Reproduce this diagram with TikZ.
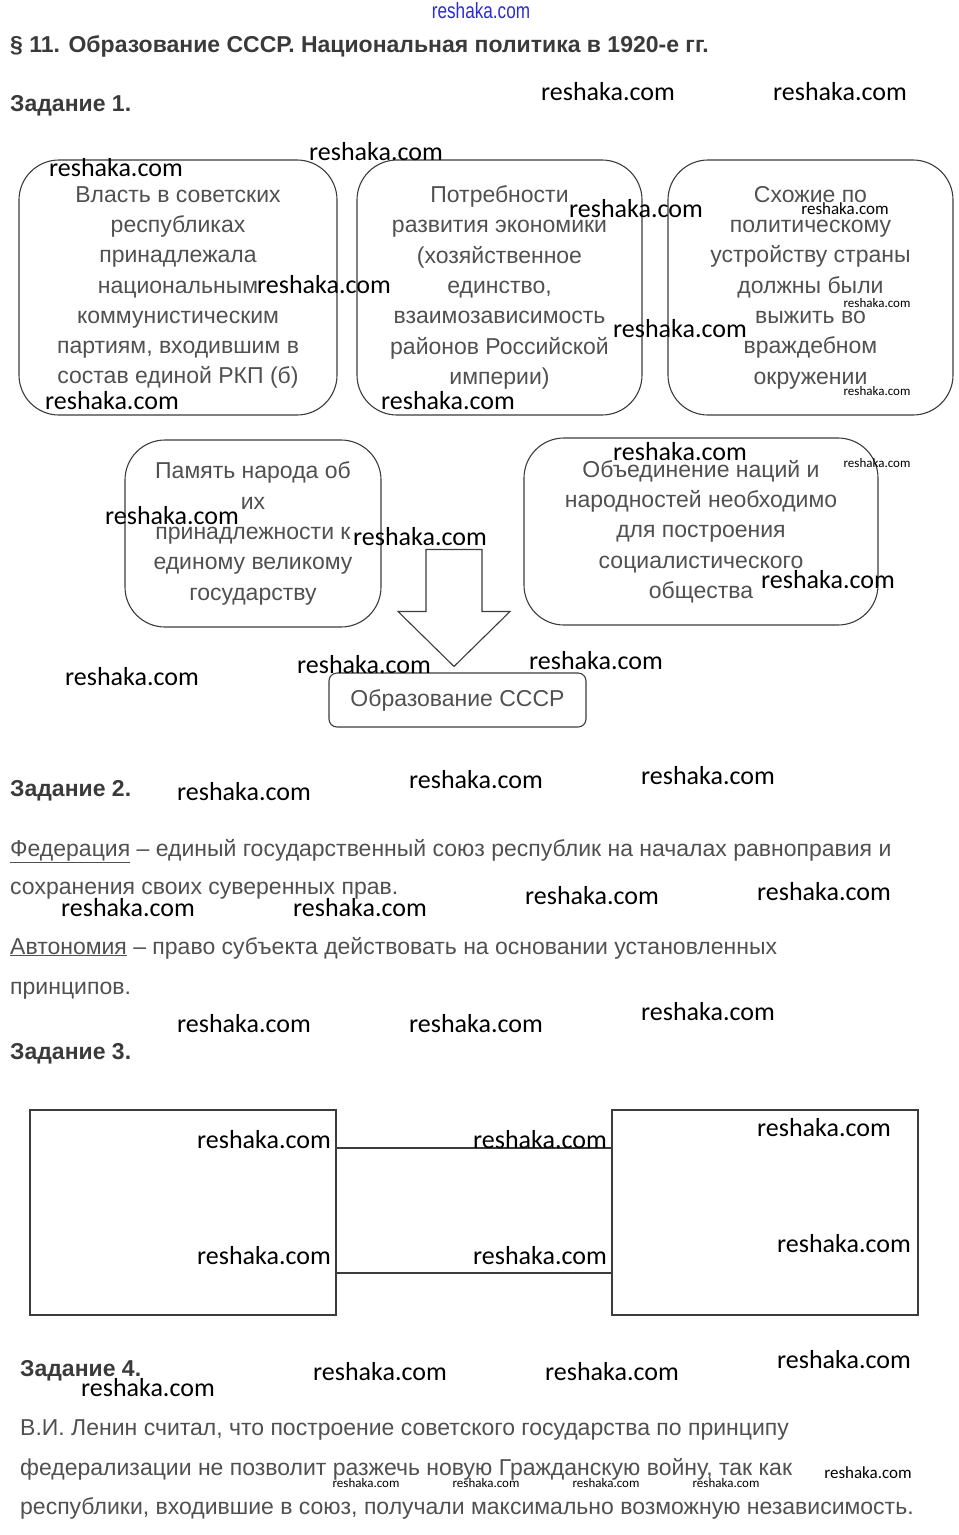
\documentclass[tikz,border=0pt]{standalone}
\usepackage{fontspec}
\usepackage{graphicx}
\setmainfont{Liberation Sans}
\newfontfamily\wmfont{Carlito}
\usetikzlibrary{calc}
\definecolor{inkgray}{HTML}{505050}
\definecolor{headgray}{HTML}{3A3A3A}
\definecolor{linegray}{HTML}{3C3C3C}
\definecolor{wmblue}{HTML}{2B2BD8}

\begin{document}
\begin{tikzpicture}[x=1pt, y=-1pt,
  box/.style={draw=linegray, line width=1.1pt, rounded corners=40pt, align=center,
              text=inkgray, inner sep=0pt, font=\fontsize{23}{30.3}\selectfont},
  smallbox/.style={box, rounded corners=8pt},
  plainbox/.style={draw=linegray, line width=1.6pt, inner sep=0pt,
                   minimum width=306pt, minimum height=205pt},
  head/.style={anchor=base west, inner sep=0pt, text=headgray,
               font=\bfseries\fontsize{23}{27}\selectfont},
  para/.style={anchor=base west, inner sep=0pt, text=inkgray,
               font=\fontsize{23}{27}\selectfont},
  link/.style={draw=linegray, line width=1.6pt},
  wm/.style={inner sep=0pt, font=\wmfont\fontsize{26}{26}\selectfont},
  wmsmall/.style={wm, font=\wmfont\fontsize{17}{17}\selectfont},
  wmtiny/.style={wm, font=\wmfont\fontsize{13}{13}\selectfont}]
\useasboundingbox (0,0) rectangle (959,1535);

% headings
\node[inner sep=0pt, text=wmblue, font=\fontsize{22}{22}\selectfont] (site) at (481,11)
  {\scalebox{0.78}[1]{reshaka.com}};
\node[head] (title) at (10,52) {§ 11. Образование СССР. Национальная политика в 1920-е гг.};
\node[head] (task1) at (10,111) {Задание 1.};

% task 1: causes
\node[box, minimum width=318pt, minimum height=255pt] (power) at (178,287.5)
  {Власть в советских\\ республиках\\ принадлежала\\ национальным\\ коммунистическим\\
   партиям, входившим в\\ состав единой РКП (б)};
\node[box, minimum width=285pt, minimum height=255pt] (econ) at (499.5,287.5)
  {Потребности\\ развития экономики\\ (хозяйственное\\ единство,\\ взаимозависимость\\
   районов Российской\\ империи)};
\node[box, minimum width=285pt, minimum height=255pt] (polit) at (810.5,287.5)
  {Схожие по\\ политическому\\ устройству страны\\ должны были\\ выжить во\\
   враждебном\\ окружении};
\node[box, minimum width=256pt, minimum height=187pt] (memory) at (253,533.5)
  {Память народа об\\ их\\ принадлежности к\\ единому великому\\ государству};
\node[box, minimum width=354pt, minimum height=187pt] (unite) at (701,531.5)
  {Объединение наций и\\ народностей необходимо\\ для построения\\ социалистического\\ общества};
\node[smallbox, minimum width=257pt, minimum height=54pt] (ussr) at (457.5,700)
  {Образование СССР};
\coordinate (tip) at ($(ussr.north)+(-3.5,-6)$);
\draw[linegray, line width=1.1pt, line join=miter]
  (tip) -- ++(-56,-55) -- ++(28,0) -- ++(0,-62) -- ++(56,0) -- ++(0,62) -- ++(28,0) -- cycle;

% task 2: terms
\node[head] (task2) at (10,796) {Задание 2.};
\node[para] (fed1) at (10,856)
  {\underline{Федерация} – единый государственный союз республик на началах равноправия и};
\node[para] (fed2) at (10,894) {сохранения своих суверенных прав.};
\node[para] (aut1) at (10,954)
  {\underline{Автономия} – право субъекта действовать на основании установленных};
\node[para] (aut2) at (10,994) {принципов.};

% task 3: empty scheme
\node[head] (task3) at (10,1059) {Задание 3.};
\node[plainbox] (left3) at (183,1212.5) {};
\node[plainbox] (right3) at (765,1212.5) {};
\draw[link] ([yshift=64.5pt]left3.east) -- ([yshift=64.5pt]right3.west);
\draw[link] ([yshift=-60.5pt]left3.east) -- ([yshift=-60.5pt]right3.west);

% task 4
\node[head] (task4) at (20,1376) {Задание 4.};
\node[para] (len1) at (20,1435)
  {В.И. Ленин считал, что построение советского государства по принципу};
\node[para] (len2) at (20,1475)
  {федерализации не позволит разжечь новую Гражданскую войну, так как};
\node[para] (len3) at (20,1514)
  {республики, входившие в союз, получали максимально возможную независимость.};

% watermarks
\node[wm] (w1) at (608,92) {reshaka.com};
\node[wm] (w2) at (840,92) {reshaka.com};
\node[wm] (w3) at (376,152) {reshaka.com};
\node[wm] (w4) at (116,168) {reshaka.com};
\node[wm] (w5) at (636,209) {reshaka.com};
\node[wm] (w6) at (324,285) {reshaka.com};
\node[wm] (w7) at (680,329) {reshaka.com};
\node[wm] (w8) at (112,401) {reshaka.com};
\node[wm] (w9) at (448,401) {reshaka.com};
\node[wm] (w10) at (680,452) {reshaka.com};
\node[wm] (w11) at (172,516) {reshaka.com};
\node[wm] (w12) at (420,537) {reshaka.com};
\node[wm] (w13) at (828,580) {reshaka.com};
\node[wm] (w14) at (132,677) {reshaka.com};
\node[wm] (w15) at (364,665) {reshaka.com};
\node[wm] (w16) at (596,661) {reshaka.com};
\node[wm] (w17) at (244,792) {reshaka.com};
\node[wm] (w18) at (476,780) {reshaka.com};
\node[wm] (w19) at (708,776) {reshaka.com};
\node[wm] (w20) at (128,908) {reshaka.com};
\node[wm] (w21) at (360,908) {reshaka.com};
\node[wm] (w22) at (592,896) {reshaka.com};
\node[wm] (w23) at (824,892) {reshaka.com};
\node[wm] (w24) at (244,1024) {reshaka.com};
\node[wm] (w25) at (476,1024) {reshaka.com};
\node[wm] (w26) at (708,1012) {reshaka.com};
\node[wm] (w27) at (264,1140) {reshaka.com};
\node[wm] (w28) at (540,1140) {reshaka.com};
\node[wm] (w29) at (824,1128) {reshaka.com};
\node[wm] (w30) at (264,1256) {reshaka.com};
\node[wm] (w31) at (540,1256) {reshaka.com};
\node[wm] (w32) at (844,1244) {reshaka.com};
\node[wm] (w33) at (380,1372) {reshaka.com};
\node[wm] (w34) at (612,1372) {reshaka.com};
\node[wm] (w35) at (844,1360) {reshaka.com};
\node[wm] (w36) at (148,1388) {reshaka.com};
\node[wmsmall] (s1) at (845,209) {reshaka.com};
\node[wmtiny] (s2) at (877,303) {reshaka.com};
\node[wmtiny] (s3) at (877,391) {reshaka.com};
\node[wmtiny] (s4) at (877,463) {reshaka.com};
\node[wmsmall] (s5) at (868,1473) {reshaka.com};
\node[wmtiny] (s6) at (366,1483) {reshaka.com};
\node[wmtiny] (s7) at (486,1483) {reshaka.com};
\node[wmtiny] (s8) at (606,1483) {reshaka.com};
\node[wmtiny] (s9) at (726,1483) {reshaka.com};
\end{tikzpicture}
\end{document}
